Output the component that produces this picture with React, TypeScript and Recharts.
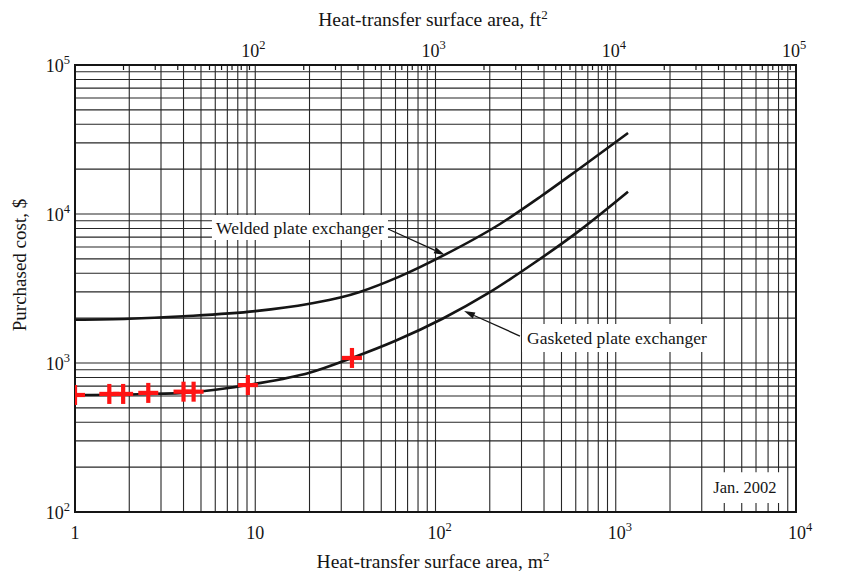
import {
  CartesianGrid,
  ComposedChart,
  Line,
  ReferenceArea,
  ReferenceLine,
  Scatter,
  XAxis,
  YAxis,
} from "recharts";

const FT2_PER_M2 = 10.7639;

// Welded plate exchanger: area (m2) -> purchased cost ($)
const weldedArea = [1, 2, 4, 10, 20, 30, 38, 63, 115, 228, 380, 620, 1170];
const weldedCost = [1950, 1980, 2060, 2230, 2500, 2760, 3000, 3800, 5400, 8570, 13000, 19900, 35000];

// Gasketed plate exchanger
const gasketedArea = [1, 2, 4, 10, 20, 34.4, 60, 110, 196, 349, 648, 1170];
const gasketedCost = [610, 615, 630, 725, 860, 1081, 1410, 1990, 2940, 4650, 7950, 14100];

// red "+" marks
const markArea = [1, 1.55, 1.85, 2.55, 4.0, 4.55, 9.1, 34.4];
const markCost = [610, 620, 620, 630, 642, 642, 711, 1081];

// log grid
const minorSteps = [1, 2, 3, 4, 5, 6, 7, 8, 9];
const m2Decades = [1, 10, 100, 1000];
const costDecades = [100, 1000, 10000];
const ft2Decades = [10, 100, 1000, 10000];

const m2Ticks = [...m2Decades.flatMap((d) => minorSteps.map((s) => s * d)), 10000];
const costTicks = [...costDecades.flatMap((d) => minorSteps.map((s) => s * d)), 100000];
const ft2Ticks = [...ft2Decades.flatMap((d) => minorSteps.map((s) => s * d)), 100000].filter(
  (v) => v >= 20
);

const welded = weldedArea.map((area, i) => ({ area, cost: weldedCost[i] }));
const gasketed = gasketedArea.map((area, i) => ({ area, cost: gasketedCost[i] }));
const marks = markArea.map((area, i) => ({ area, cost: markCost[i] }));
// same welded curve expressed in ft2, only used to drive the top axis
const weldedFt = welded.map((d) => ({ ft: d.area * FT2_PER_M2, cost: d.cost }));

const W = 830;
const H = 568;
const PLOT = { left: 67, top: 57, right: 788, bottom: 504 };
const SERIF = '"Liberation Serif", "DejaVu Serif", serif';
const INK = "#151515";

function decadeExp(v: number): number | null {
  const e = Math.log10(v);
  const r = Math.round(e);
  return Math.abs(e - r) < 1e-6 ? r : null;
}

function PowerLabel({ x, y, exp, anchor }: { x: number; y: number; exp: number; anchor: string }) {
  const common = { x, y, textAnchor: anchor, fontFamily: SERIF, fontSize: 18, fill: INK } as any;
  if (exp === 0) return <text {...common}>1</text>;
  if (exp === 1) return <text {...common}>10</text>;
  return (
    <text {...common}>
      <tspan>10</tspan>
      <tspan dy={-8} fontSize={12.5}>
        {exp}
      </tspan>
    </text>
  );
}

function BottomTick(props: any) {
  const exp = decadeExp(props.payload.value);
  if (exp === null) return <g />;
  return <PowerLabel x={props.x + (exp > 1 ? 4 : 0)} y={PLOT.bottom + 27} exp={exp} anchor="middle" />;
}

function LeftTick(props: any) {
  const exp = decadeExp(props.payload.value);
  if (exp === null) return <g />;
  return <PowerLabel x={PLOT.left - 5} y={props.y + 7} exp={exp} anchor="end" />;
}

function TopTick(props: any) {
  const exp = decadeExp(props.payload.value);
  return (
    <g>
      <line x1={props.x} x2={props.x} y1={PLOT.top} y2={PLOT.top + 5} stroke={INK} strokeWidth={1.2} />
      {exp !== null && <PowerLabel x={props.x + 4} y={PLOT.top - 8} exp={exp} anchor="middle" />}
    </g>
  );
}

function PlusMark(props: any) {
  const { cx, cy } = props;
  const r = 10;
  return (
    <g>
      <line x1={cx - r} x2={cx + r} y1={cy} y2={cy} stroke="#ff1414" strokeWidth={4.2} />
      <line x1={cx} x2={cx} y1={cy - r} y2={cy + r} stroke="#ff1414" strokeWidth={4.2} />
    </g>
  );
}

function Arrow(props: any) {
  const { x1, y1, x2, y2 } = props;
  const a = Math.atan2(y2 - y1, x2 - x1);
  const len = 11;
  const half = 3.2;
  const bx = x2 - len * Math.cos(a);
  const by = y2 - len * Math.sin(a);
  const pts = `${x2},${y2} ${bx - half * Math.sin(a)},${by + half * Math.cos(a)} ${bx + half * Math.sin(a)},${by - half * Math.cos(a)}`;
  return (
    <g>
      <line x1={x1} y1={y1} x2={bx} y2={by} stroke={INK} strokeWidth={1.3} />
      <polygon points={pts} fill={INK} />
    </g>
  );
}

const labelStyle = { fill: INK, fontSize: 17.5, fontFamily: SERIF };

export default function App() {
  const cx = 425;
  const title = {
    position: "absolute" as const,
    left: cx,
    transform: "translateX(-50%)",
    whiteSpace: "nowrap" as const,
    fontSize: 19.5,
    lineHeight: "22px",
  };
  return (
    <div style={{ position: "relative", width: W, height: H, background: "#fff", fontFamily: SERIF, color: INK }}>
      <ComposedChart
        width={W}
        height={H}
        margin={{ top: PLOT.top - 30, right: W - PLOT.right, bottom: H - PLOT.bottom - 30, left: PLOT.left - 62 }}
      >
        <CartesianGrid stroke="#262626" strokeWidth={1.1} />
        <XAxis
          dataKey="area"
          type="number"
          scale="log"
          domain={[1, 10000]}
          ticks={m2Ticks}
          interval={0}
          allowDataOverflow
          height={30}
          axisLine={false}
          tickLine={false}
          tick={<BottomTick />}
        />
        <XAxis
          xAxisId="ft"
          dataKey="ft"
          orientation="top"
          type="number"
          scale="log"
          domain={[FT2_PER_M2, 10000 * FT2_PER_M2]}
          ticks={ft2Ticks}
          interval={0}
          allowDataOverflow
          height={30}
          axisLine={false}
          tickLine={false}
          tick={<TopTick />}
        />
        <YAxis
          dataKey="cost"
          type="number"
          scale="log"
          domain={[100, 100000]}
          ticks={costTicks}
          interval={0}
          allowDataOverflow
          width={62}
          axisLine={false}
          tickLine={false}
          tick={<LeftTick />}
        />
        <ReferenceArea x1={1} x2={10000} y1={100} y2={100000} fill="none" stroke={INK} strokeWidth={2} />
        <ReferenceArea
          x1={5.75}
          x2={54.5}
          y1={6690}
          y2={9850}
          fill="#fff"
          fillOpacity={1}
          stroke="none"
          label={{ value: "Welded plate exchanger", position: "center", ...labelStyle }}
        />
        <ReferenceArea
          x1={302}
          x2={3420}
          y1={1185}
          y2={1828}
          fill="#fff"
          fillOpacity={1}
          stroke="none"
          label={{ value: "Gasketed plate exchanger", position: "center", ...labelStyle }}
        />
        <ReferenceArea
          x1={3250}
          x2={8360}
          y1={115}
          y2={185}
          fill="#fff"
          fillOpacity={1}
          stroke="none"
          label={{ value: "Jan. 2002", position: "center", ...labelStyle, fontSize: 16.5 }}
        />
        <ReferenceLine segment={[{ x: 54.5, y: 7930 }, { x: 112.9, y: 5306 }]} shape={<Arrow />} />
        <ReferenceLine segment={[{ x: 294, y: 1517 }, { x: 144, y: 2234 }]} shape={<Arrow />} />
        <Line
          xAxisId="ft"
          data={weldedFt}
          dataKey="cost"
          stroke="none"
          dot={false}
          legendType="none"
          isAnimationActive={false}
        />
        <Line
          data={welded}
          dataKey="cost"
          type="monotone"
          stroke={INK}
          strokeWidth={2.6}
          dot={false}
          isAnimationActive={false}
        />
        <Line
          data={gasketed}
          dataKey="cost"
          type="monotone"
          stroke={INK}
          strokeWidth={2.6}
          dot={false}
          isAnimationActive={false}
        />
        <Scatter data={marks} dataKey="cost" shape={<PlusMark />} isAnimationActive={false} />
      </ComposedChart>
      <div style={{ ...title, top: 1 }}>
        Heat-transfer surface area, ft<sup style={{ fontSize: 13, lineHeight: 0 }}>2</sup>
      </div>
      <div style={{ ...title, top: 543 }}>
        Heat-transfer surface area, m<sup style={{ fontSize: 13, lineHeight: 0 }}>2</sup>
      </div>
      <div
        style={{
          position: "absolute",
          left: 12,
          top: 257,
          transform: "translate(-50%, -50%) rotate(-90deg)",
          whiteSpace: "nowrap",
          fontSize: 19,
          lineHeight: "22px",
        }}
      >
        Purchased cost, $
      </div>
    </div>
  );
}
